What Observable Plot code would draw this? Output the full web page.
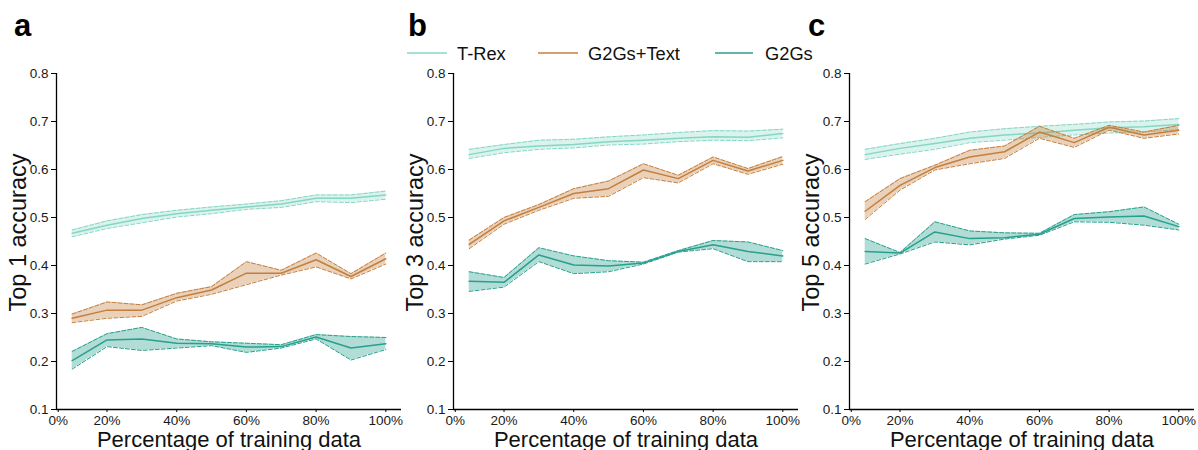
<!DOCTYPE html>
<html>
<head>
<meta charset="utf-8">
<script src="https://cdn.jsdelivr.net/npm/d3@7"></script>
<script src="https://cdn.jsdelivr.net/npm/@observablehq/plot@0.6"></script>
<style>
  html, body { margin: 0; padding: 0; background: #fff; }
  #wrap { position: relative; width: 1198px; height: 450px; font-family: "Liberation Sans", Arial, sans-serif; }
  .panel { position: absolute; top: 0; }
  .letter { position: absolute; font-weight: bold; font-size: 31px; line-height: 1; color: #000; }
  #legend { position: absolute; left: 0; top: 0; width: 1198px; height: 70px; }
</style>
</head>
<body>
<div id="wrap"></div>
<script>
// ---- data ----
const pct = [10, 20, 30, 40, 50, 60, 70, 80, 90, 100];
const xTicks = [6, 20, 40, 60, 80, 100];
const xTickLabels = ["0%", "20%", "40%", "60%", "80%", "100%"];
const yTicks = [0.1, 0.2, 0.3, 0.4, 0.5, 0.6, 0.7, 0.8];
const yTickLabels = ["0.1", "0.2", "0.3", "0.4", "0.5", "0.6", "0.7", "0.8"];
const seriesNames = ["T-Rex", "G2Gs+Text", "G2Gs"];
const seriesColors = ["#86d6c5", "#c47f3e", "#27a08d"];
const panelLetters = ["a", "b", "c"];
const panelLabels = ["Top 1 accuracy", "Top 3 accuracy", "Top 5 accuracy"];

// Top 1
const top1TRexMean = [0.467, 0.484, 0.498, 0.508, 0.515, 0.522, 0.528, 0.540, 0.540, 0.547];
const top1TRexLo   = [0.460, 0.477, 0.489, 0.501, 0.508, 0.517, 0.521, 0.533, 0.531, 0.538];
const top1TRexHi   = [0.474, 0.493, 0.506, 0.515, 0.522, 0.528, 0.535, 0.547, 0.547, 0.555];
const top1TextMean = [0.290, 0.307, 0.307, 0.333, 0.349, 0.384, 0.384, 0.412, 0.377, 0.414];
const top1TextLo   = [0.281, 0.290, 0.294, 0.326, 0.340, 0.360, 0.380, 0.397, 0.372, 0.403];
const top1TextHi   = [0.299, 0.324, 0.318, 0.342, 0.356, 0.408, 0.390, 0.426, 0.383, 0.426];
const top1G2GsMean = [0.202, 0.245, 0.247, 0.238, 0.237, 0.230, 0.231, 0.251, 0.228, 0.237];
const top1G2GsLo   = [0.184, 0.231, 0.223, 0.228, 0.233, 0.219, 0.228, 0.247, 0.203, 0.225];
const top1G2GsHi   = [0.221, 0.258, 0.271, 0.247, 0.241, 0.238, 0.235, 0.256, 0.252, 0.250];

// Top 3
const top3TRexMean = [0.631, 0.644, 0.649, 0.652, 0.658, 0.661, 0.665, 0.668, 0.667, 0.675];
const top3TRexLo   = [0.623, 0.635, 0.642, 0.645, 0.651, 0.653, 0.658, 0.661, 0.660, 0.666];
const top3TRexHi   = [0.642, 0.652, 0.661, 0.663, 0.668, 0.672, 0.677, 0.681, 0.680, 0.684];
const top3TextMean = [0.444, 0.493, 0.521, 0.550, 0.560, 0.599, 0.581, 0.619, 0.597, 0.619];
const top3TextLo   = [0.435, 0.486, 0.515, 0.540, 0.544, 0.583, 0.572, 0.612, 0.590, 0.611];
const top3TextHi   = [0.453, 0.500, 0.527, 0.560, 0.576, 0.612, 0.588, 0.626, 0.602, 0.627];
const top3G2GsMean = [0.367, 0.365, 0.422, 0.401, 0.399, 0.405, 0.429, 0.443, 0.429, 0.420];
const top3G2GsLo   = [0.346, 0.355, 0.408, 0.383, 0.387, 0.403, 0.428, 0.435, 0.408, 0.408];
const top3G2GsHi   = [0.387, 0.375, 0.437, 0.420, 0.410, 0.407, 0.431, 0.452, 0.449, 0.431];

// Top 5
const top5TRexMean = [0.631, 0.644, 0.654, 0.665, 0.672, 0.676, 0.682, 0.687, 0.689, 0.694];
const top5TRexLo   = [0.621, 0.632, 0.642, 0.656, 0.661, 0.667, 0.672, 0.676, 0.678, 0.683];
const top5TRexHi   = [0.642, 0.654, 0.665, 0.678, 0.685, 0.690, 0.694, 0.699, 0.701, 0.706];
const top5TextMean = [0.513, 0.567, 0.604, 0.626, 0.637, 0.678, 0.656, 0.688, 0.672, 0.682];
const top5TextLo   = [0.496, 0.557, 0.599, 0.612, 0.623, 0.665, 0.646, 0.682, 0.665, 0.674];
const top5TextHi   = [0.533, 0.581, 0.609, 0.640, 0.649, 0.690, 0.665, 0.692, 0.678, 0.692];
const top5G2GsMean = [0.429, 0.426, 0.470, 0.456, 0.458, 0.465, 0.498, 0.501, 0.503, 0.481];
const top5G2GsLo   = [0.403, 0.424, 0.449, 0.443, 0.455, 0.463, 0.491, 0.490, 0.484, 0.474];
const top5G2GsHi   = [0.456, 0.427, 0.491, 0.472, 0.468, 0.467, 0.506, 0.512, 0.522, 0.486];

const panels = [
  [[top1TRexMean, top1TRexLo, top1TRexHi], [top1TextMean, top1TextLo, top1TextHi], [top1G2GsMean, top1G2GsLo, top1G2GsHi]],
  [[top3TRexMean, top3TRexLo, top3TRexHi], [top3TextMean, top3TextLo, top3TextHi], [top3G2GsMean, top3G2GsLo, top3G2GsHi]],
  [[top5TRexMean, top5TRexLo, top5TRexHi], [top5TextMean, top5TextLo, top5TextHi], [top5G2GsMean, top5G2GsLo, top5G2GsHi]]
];

const wrap = document.getElementById("wrap");
const panelLefts = [0, 397, 793];
const letterLefts = [14, 408, 808];
const xDomain = [5.5, 104.5];

panels.forEach((series, pi) => {
  const marks = [];
  series.forEach(([mean, lo, hi], si) => {
    const rows = pct.map((p, i) => ({p, mean: mean[i], lo: lo[i], hi: hi[i]}));
    const c = seriesColors[si];
    marks.push(Plot.areaY(rows, {x: "p", y1: "lo", y2: "hi", fill: c, fillOpacity: si === 0 ? 0.3 : 0.36}));
    marks.push(Plot.line(rows, {x: "p", y: "lo", stroke: c, strokeWidth: 1, strokeDasharray: "4,2"}));
    marks.push(Plot.line(rows, {x: "p", y: "hi", stroke: c, strokeWidth: 1, strokeDasharray: "4,2"}));
    marks.push(Plot.line(rows, {x: "p", y: "mean", stroke: c, strokeWidth: 1.5}));
  });
  marks.push(Plot.ruleX([xDomain[0]], {stroke: "#000", strokeWidth: 1.3}));
  marks.push(Plot.ruleY([0.1], {stroke: "#000", strokeWidth: 1.3}));
  marks.push(Plot.axisY({ticks: yTicks, tickSize: 5, tickFormat: () => "", label: null, stroke: "#000"}));
  marks.push(Plot.axisX({ticks: xTicks, tickSize: 3, tickFormat: () => "", label: null, stroke: "#000"}));
  // tick labels
  marks.push(Plot.text(yTicks, {x: () => xDomain[0], y: (d) => d, text: (d, i) => yTickLabels[i], dx: -8, textAnchor: "end", fontSize: "13.5px", fill: "#1a1a1a"}));
  marks.push(Plot.text(xTicks, {x: (d) => d, y: () => 0.1, text: (d, i) => xTickLabels[i], dy: 11, textAnchor: "middle", fontSize: "13.5px", fill: "#1a1a1a"}));
  // axis titles
  marks.push(Plot.text([panelLabels[pi]], {frameAnchor: "left", rotate: -90, dx: -38, dy: -9, text: (d) => d, fontSize: 23.5, fill: "#111", lineAnchor: "middle", textAnchor: "middle"}));
  marks.push(Plot.text(["Percentage of training data"], {frameAnchor: "bottom", dy: 30, text: (d) => d, fontSize: 22, fill: "#111", lineAnchor: "middle", textAnchor: "middle"}));

  const chart = Plot.plot({
    width: 401,
    height: 450,
    marginLeft: 56,
    marginRight: 0,
    marginTop: 73,
    marginBottom: 41,
    style: {fontFamily: "Liberation Sans, Arial, sans-serif", background: "transparent", overflow: "visible"},
    x: {type: "linear", domain: xDomain},
    y: {type: "linear", domain: [0.1, 0.8]},
    marks
  });
  const holder = document.createElement("div");
  holder.className = "panel";
  holder.style.left = panelLefts[pi] + "px";
  holder.appendChild(chart);
  wrap.appendChild(holder);

  const letter = document.createElement("div");
  letter.className = "letter";
  letter.style.left = letterLefts[pi] + "px";
  letter.style.top = "10px";
  letter.textContent = panelLetters[pi];
  wrap.appendChild(letter);
});

// legend
const legendX = [[407, 447, 457], [538, 578, 588], [715, 753, 765]];
const lg = d3.select(wrap).append("svg").attr("id", "legend").attr("width", 1198).attr("height", 70);
seriesNames.forEach((name, i) => {
  const [x1, x2, tx] = legendX[i];
  lg.append("line").attr("x1", x1).attr("x2", x2).attr("y1", 53).attr("y2", 53)
    .attr("stroke", seriesColors[i]).attr("stroke-width", 1.6);
  lg.append("text").attr("x", tx).attr("y", 59.5).attr("font-size", 18.3)
    .attr("font-family", "Liberation Sans, Arial, sans-serif").attr("fill", "#111").text(name);
});
</script>
</body>
</html>
